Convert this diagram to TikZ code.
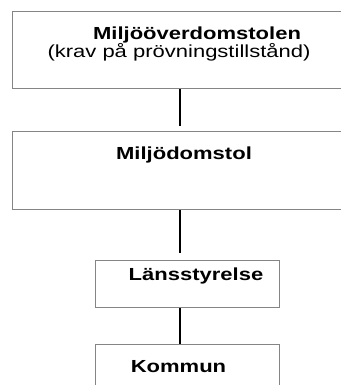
\documentclass[tikz,border=0pt]{standalone}
\usepackage{fontspec}
\setmainfont[FakeStretch=1.26]{Liberation Sans}
\definecolor{boxgray}{HTML}{858585}
\begin{document}
\begin{tikzpicture}[x=0.75pt,y=-0.75pt,
  box/.style={draw=boxgray,line width=1.1pt,anchor=north west,inner sep=0pt,rectangle},
  lbl/.style={anchor=base,inner sep=0pt,font=\fontsize{13.1pt}{15pt}\selectfont},
  conn/.style={draw=black,line width=1pt}]
\useasboundingbox (0,0) rectangle (341,385);
\clip (0,0) rectangle (341,385);
\fill[white] (0,0) rectangle (341,385);
\node[box,minimum width=251.25pt,minimum height=57.75pt] (b1) at (12,11) {};
\node[box,minimum width=251.25pt,minimum height=58.5pt] (b2) at (12,131) {};
\node[box,minimum width=138pt,minimum height=35.25pt] (b3) at (95,260) {};
\node[box,minimum width=138pt,minimum height=37.5pt] (b4) at (95,344) {};
\node[lbl] (t1a) at (197,39.3) {\textbf{Miljööverdomstolen}};
\node[lbl] (t1b) at (179,57.5) {(krav på prövningstillstånd)};
\node[lbl] (t2) at (184,159) {\textbf{Miljödomstol}};
\node[lbl] (t3) at (196,280.5) {\textbf{Länsstyrelse}};
\node[lbl] (t4) at (178.5,372.7) {\textbf{Kommun}};
\coordinate (c1) at (180,126);
\coordinate (c2) at (180,253);
\draw[conn] (c1 |- b1.south) -- (c1);
\draw[conn] (c2 |- b2.south) -- (c2);
\draw[conn] (c2 |- b3.south) -- (c2 |- b4.north);
\end{tikzpicture}
\end{document}
